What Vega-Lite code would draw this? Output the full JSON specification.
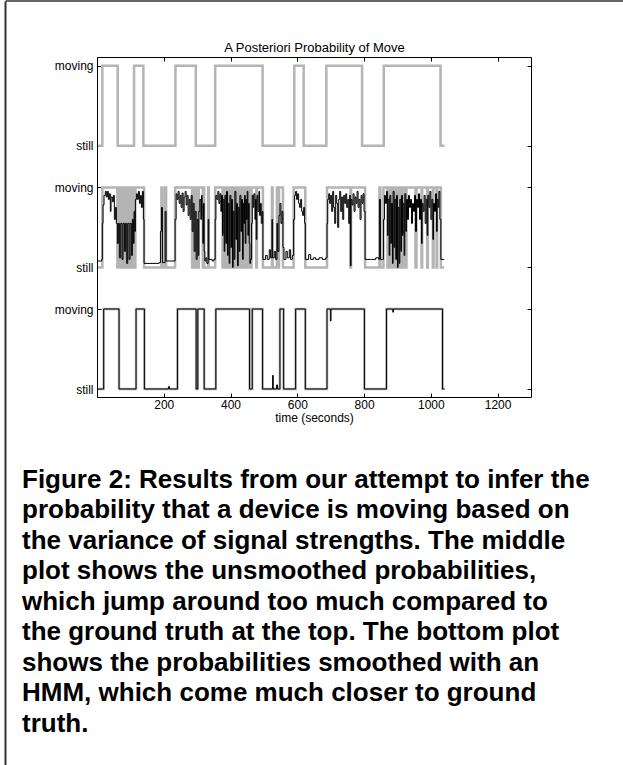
{
  "$schema": "https://vega.github.io/schema/vega-lite/v6.json",
  "autosize": {"type": "none"},
  "width": 434,
  "height": 340,
  "padding": {"left": 97, "top": 57, "right": 92, "bottom": 368},
  "background": "white",
  "config": {
    "font": "Liberation Sans",
    "view": {"stroke": "black", "strokeWidth": 1},
    "axis": {
      "grid": false,
      "domain": false,
      "labelFont": "Liberation Sans",
      "labelFontSize": 12,
      "labelColor": "black",
      "titleFont": "Liberation Sans",
      "titleFontSize": 12,
      "titleFontWeight": "normal",
      "titleColor": "black",
      "tickColor": "black",
      "tickWidth": 1
    }
  },
  "datasets": {
    "actual": [
      {"t": 4, "v": 0}, {"t": 16, "v": 1}, {"t": 62, "v": 0}, {"t": 111, "v": 1}, {"t": 139, "v": 0},
      {"t": 235, "v": 1}, {"t": 296, "v": 0}, {"t": 354, "v": 1}, {"t": 496, "v": 0}, {"t": 591, "v": 1},
      {"t": 619, "v": 0}, {"t": 687, "v": 1}, {"t": 794, "v": 0}, {"t": 859, "v": 1}, {"t": 1029, "v": 0},
      {"t": 1041, "v": 0}
    ],
    "smoothed": [
      {"t": 4, "s": 0, "g": 0}, {"t": 20, "s": 1, "g": 1}, {"t": 66, "s": 0, "g": 0}, {"t": 117, "s": 1, "g": 1},
      {"t": 142, "s": 0, "g": 0}, {"t": 214, "s": 0.03, "g": 0}, {"t": 217, "s": 0, "g": 0}, {"t": 241, "s": 1, "g": 1},
      {"t": 297, "s": 0, "g": 0}, {"t": 302, "s": 1, "g": 1}, {"t": 321, "s": 0, "g": 0}, {"t": 356, "s": 1, "g": 1},
      {"t": 457, "s": 0, "g": 0}, {"t": 465, "s": 1, "g": 1}, {"t": 496, "s": 0, "g": 0}, {"t": 526, "s": 0.17, "g": 0},
      {"t": 528, "s": 0, "g": 0}, {"t": 538, "s": 0.05, "g": 0}, {"t": 541, "s": 0, "g": 0}, {"t": 548, "s": 1, "g": 1},
      {"t": 559, "s": 0, "g": 0}, {"t": 595, "s": 1, "g": 1}, {"t": 624, "s": 0, "g": 0}, {"t": 689, "s": 1, "g": 1},
      {"t": 699, "s": 0.85, "g": 1}, {"t": 701, "s": 1, "g": 1}, {"t": 801, "s": 0, "g": 0}, {"t": 867, "s": 1, "g": 1},
      {"t": 886, "s": 0.96, "g": 1}, {"t": 888, "s": 1, "g": 1}, {"t": 1035, "s": 0, "g": 0}, {"t": 1041, "s": 0, "g": 0}
    ],
    "unsmoothed": [
      {"t":3,"u":0.08,"g":0},{"t":14,"u":0.1,"g":0},{"t":16,"u":0.55,"g":1},{"t":18,"u":0.78,"g":1},{"t":21,"u":0.9,"g":1},
      {"t":25,"u":0.95,"g":1},{"t":28,"u":0.88,"g":1},{"t":31,"u":0.95,"g":1},{"t":34,"u":0.85,"g":1},{"t":37,"u":0.92,"g":1},
      {"t":40,"u":0.7,"g":1},{"t":42,"u":0.88,"g":1},{"t":46,"u":0.82,"g":1},{"t":49,"u":0.9,"g":1},{"t":52,"u":0.6,"g":1},
      {"t":55,"u":0.75,"g":1},{"t":58,"u":0.55,"g":1},{"t":61,"u":0.3,"g":0},{"t":64,"u":0.55,"g":1},{"t":67,"u":0.12,"g":0},
      {"t":71,"u":0.55,"g":1},{"t":75,"u":0.1,"g":0},{"t":78,"u":0.55,"g":1},{"t":82,"u":0.2,"g":0},{"t":85,"u":0.55,"g":1},
      {"t":89,"u":0.05,"g":0},{"t":92,"u":0.55,"g":1},{"t":96,"u":0.1,"g":0},{"t":99,"u":0.55,"g":1},{"t":103,"u":0.15,"g":0},
      {"t":106,"u":0.6,"g":1},{"t":109,"u":0.3,"g":0},{"t":111,"u":0.7,"g":1},{"t":113,"u":0.45,"g":0},{"t":115,"u":0.85,"g":1},
      {"t":118,"u":0.92,"g":1},{"t":121,"u":0.85,"g":1},{"t":124,"u":0.95,"g":1},{"t":127,"u":0.8,"g":1},{"t":130,"u":0.9,"g":1},
      {"t":133,"u":0.75,"g":1},{"t":136,"u":0.95,"g":1},{"t":139,"u":0.6,"g":1},{"t":141,"u":0.05,"g":0},
      {"t":186,"u":0.06,"g":0},{"t":190,"u":0.45,"g":0},{"t":193,"u":0.75,"g":1},{"t":196,"u":0.06,"g":0},{"t":204,"u":0.7,"g":1},
      {"t":207,"u":0.08,"g":0},
      {"t":234,"u":0.6,"g":1},{"t":237,"u":0.92,"g":1},{"t":240,"u":0.85,"g":1},{"t":243,"u":0.95,"g":1},{"t":246,"u":0.8,"g":1},
      {"t":249,"u":0.9,"g":1},{"t":252,"u":0.75,"g":1},{"t":255,"u":0.93,"g":1},{"t":258,"u":0.7,"g":1},{"t":261,"u":0.88,"g":1},
      {"t":264,"u":0.95,"g":1},{"t":267,"u":0.78,"g":1},{"t":270,"u":0.9,"g":1},{"t":273,"u":0.65,"g":1},{"t":276,"u":0.85,"g":1},
      {"t":279,"u":0.6,"g":1},{"t":282,"u":0.9,"g":1},{"t":285,"u":0.45,"g":0},{"t":288,"u":0.8,"g":1},{"t":291,"u":0.2,"g":0},
      {"t":294,"u":0.7,"g":1},{"t":297,"u":0.1,"g":0},{"t":300,"u":0.6,"g":1},{"t":303,"u":0.15,"g":0},{"t":305,"u":0.7,"g":1},
      {"t":308,"u":0.85,"g":1},{"t":311,"u":0.6,"g":1},{"t":313,"u":0.9,"g":1},{"t":315,"u":0.75,"g":1},{"t":317,"u":0.3,"g":0},
      {"t":319,"u":0.8,"g":1},{"t":321,"u":0.2,"g":0},{"t":323,"u":0.08,"g":0},
      {"t":326,"u":0.12,"g":0},{"t":329,"u":0.05,"g":0},{"t":333,"u":0.6,"g":1},{"t":335,"u":0.1,"g":0},{"t":339,"u":0.1,"g":0},
      {"t":345,"u":0.08,"g":0},{"t":350,"u":0.1,"g":0},
      {"t":354,"u":0.6,"g":1},{"t":356,"u":0.9,"g":1},{"t":359,"u":0.85,"g":1},{"t":362,"u":0.95,"g":1},{"t":365,"u":0.8,"g":1},
      {"t":368,"u":0.92,"g":1},{"t":371,"u":0.7,"g":1},{"t":373,"u":0.9,"g":1},{"t":376,"u":0.4,"g":0},{"t":378,"u":0.85,"g":1},
      {"t":381,"u":0.2,"g":0},{"t":383,"u":0.9,"g":1},{"t":386,"u":0.3,"g":0},{"t":388,"u":0.95,"g":1},{"t":391,"u":0.15,"g":0},
      {"t":393,"u":0.8,"g":1},{"t":396,"u":0.05,"g":0},{"t":398,"u":0.9,"g":1},{"t":401,"u":0.25,"g":0},{"t":403,"u":0.85,"g":1},
      {"t":406,"u":0.0,"g":0},{"t":408,"u":0.7,"g":1},{"t":411,"u":0.1,"g":0},{"t":413,"u":0.95,"g":1},{"t":416,"u":0.35,"g":0},
      {"t":418,"u":0.8,"g":1},{"t":421,"u":0.02,"g":0},{"t":423,"u":0.75,"g":1},{"t":426,"u":0.2,"g":0},{"t":428,"u":0.9,"g":1},
      {"t":431,"u":0.45,"g":0},{"t":433,"u":0.85,"g":1},{"t":436,"u":0.1,"g":0},{"t":438,"u":0.8,"g":1},{"t":440,"u":0.55,"g":1},
      {"t":442,"u":0.9,"g":1},{"t":444,"u":0.3,"g":0},{"t":446,"u":0.85,"g":1},{"t":448,"u":0.6,"g":1},{"t":450,"u":0.95,"g":1},
      {"t":452,"u":0.4,"g":0},{"t":454,"u":0.8,"g":1},{"t":456,"u":0.3,"g":0},{"t":458,"u":0.05,"g":0},{"t":460,"u":0.1,"g":0},
      {"t":463,"u":0.55,"g":1},{"t":465,"u":0.9,"g":1},{"t":468,"u":0.75,"g":1},{"t":470,"u":0.92,"g":1},{"t":473,"u":0.6,"g":1},
      {"t":475,"u":0.85,"g":1},{"t":477,"u":0.35,"g":0},{"t":479,"u":0.9,"g":1},{"t":482,"u":0.7,"g":1},{"t":485,"u":0.95,"g":1},
      {"t":487,"u":0.65,"g":1},{"t":490,"u":0.8,"g":1},{"t":492,"u":0.55,"g":1},{"t":495,"u":0.7,"g":1},{"t":497,"u":0.1,"g":0},
      {"t":505,"u":0.15,"g":0},{"t":510,"u":0.1,"g":0},{"t":516,"u":0.22,"g":0},{"t":520,"u":0.12,"g":0},{"t":524,"u":0.6,"g":1},
      {"t":526,"u":0.12,"g":0},{"t":531,"u":0.2,"g":0},{"t":535,"u":0.1,"g":0},{"t":539,"u":0.55,"g":1},{"t":541,"u":0.2,"g":0},
      {"t":545,"u":0.65,"g":1},{"t":548,"u":0.8,"g":1},{"t":551,"u":0.55,"g":1},{"t":554,"u":0.7,"g":1},{"t":557,"u":0.25,"g":0},
      {"t":560,"u":0.1,"g":0},{"t":566,"u":0.2,"g":0},{"t":570,"u":0.12,"g":0},{"t":576,"u":0.22,"g":0},{"t":580,"u":0.1,"g":0},
      {"t":585,"u":0.15,"g":0},
      {"t":589,"u":0.6,"g":1},{"t":592,"u":0.9,"g":1},{"t":595,"u":0.95,"g":1},{"t":598,"u":0.85,"g":1},{"t":601,"u":0.92,"g":1},
      {"t":604,"u":0.8,"g":1},{"t":607,"u":0.75,"g":1},{"t":610,"u":0.85,"g":1},{"t":613,"u":0.7,"g":1},{"t":616,"u":0.65,"g":1},
      {"t":619,"u":0.75,"g":1},{"t":622,"u":0.55,"g":1},{"t":624,"u":0.1,"g":0},
      {"t":634,"u":0.16,"g":0},{"t":640,"u":0.1,"g":0},{"t":648,"u":0.12,"g":0},{"t":655,"u":0.1,"g":0},{"t":665,"u":0.12,"g":0},
      {"t":675,"u":0.1,"g":0},{"t":685,"u":0.12,"g":0},
      {"t":689,"u":0.55,"g":1},{"t":691,"u":0.85,"g":1},{"t":694,"u":0.92,"g":1},{"t":697,"u":0.8,"g":1},{"t":700,"u":0.9,"g":1},
      {"t":703,"u":0.7,"g":1},{"t":706,"u":0.95,"g":1},{"t":709,"u":0.75,"g":1},{"t":712,"u":0.55,"g":1},{"t":715,"u":0.9,"g":1},
      {"t":718,"u":0.8,"g":1},{"t":721,"u":0.5,"g":1},{"t":724,"u":0.85,"g":1},{"t":727,"u":0.95,"g":1},{"t":730,"u":0.7,"g":1},
      {"t":733,"u":0.88,"g":1},{"t":736,"u":0.6,"g":1},{"t":739,"u":0.9,"g":1},{"t":742,"u":0.8,"g":1},{"t":745,"u":0.92,"g":1},
      {"t":748,"u":0.75,"g":1},{"t":751,"u":0.85,"g":1},{"t":754,"u":0.55,"g":1},{"t":757,"u":0.9,"g":1},{"t":759,"u":0.02,"g":0},
      {"t":761,"u":0.85,"g":1},{"t":764,"u":0.78,"g":1},{"t":767,"u":0.92,"g":1},{"t":770,"u":0.7,"g":1},{"t":773,"u":0.88,"g":1},
      {"t":776,"u":0.8,"g":1},{"t":779,"u":0.95,"g":1},{"t":782,"u":0.75,"g":1},{"t":785,"u":0.85,"g":1},{"t":788,"u":0.6,"g":1},
      {"t":791,"u":0.9,"g":1},{"t":794,"u":0.8,"g":1},{"t":797,"u":0.92,"g":1},{"t":800,"u":0.7,"g":1},{"t":803,"u":0.1,"g":0},
      {"t":820,"u":0.1,"g":0},{"t":835,"u":0.12,"g":0},{"t":844,"u":0.1,"g":0},{"t":846,"u":0.85,"g":1},{"t":849,"u":0.1,"g":0},
      {"t":855,"u":0.1,"g":0},
      {"t":858,"u":0.6,"g":1},{"t":861,"u":0.9,"g":1},{"t":864,"u":0.8,"g":1},{"t":867,"u":0.95,"g":1},{"t":870,"u":0.4,"g":0},
      {"t":872,"u":0.85,"g":1},{"t":875,"u":0.15,"g":0},{"t":877,"u":0.9,"g":1},{"t":880,"u":0.3,"g":0},{"t":882,"u":0.8,"g":1},
      {"t":885,"u":0.05,"g":0},{"t":887,"u":0.95,"g":1},{"t":890,"u":0.25,"g":0},{"t":892,"u":0.85,"g":1},{"t":895,"u":0.1,"g":0},
      {"t":897,"u":0.9,"g":1},{"t":900,"u":0.0,"g":0},{"t":902,"u":0.75,"g":1},{"t":905,"u":0.05,"g":0},{"t":907,"u":0.85,"g":1},
      {"t":910,"u":0.2,"g":0},{"t":912,"u":0.9,"g":1},{"t":915,"u":0.4,"g":0},{"t":917,"u":0.8,"g":1},{"t":920,"u":0.15,"g":0},
      {"t":922,"u":0.92,"g":1},{"t":925,"u":0.45,"g":0},{"t":927,"u":0.85,"g":1},{"t":930,"u":0.6,"g":1},{"t":933,"u":0.9,"g":1},
      {"t":936,"u":0.75,"g":1},{"t":939,"u":0.85,"g":1},{"t":942,"u":0.55,"g":1},{"t":945,"u":0.8,"g":1},{"t":948,"u":0.7,"g":1},
      {"t":951,"u":0.9,"g":1},{"t":954,"u":0.45,"g":0},{"t":957,"u":0.85,"g":1},{"t":960,"u":0.75,"g":1},{"t":963,"u":0.92,"g":1},
      {"t":966,"u":0.6,"g":1},{"t":969,"u":0.85,"g":1},{"t":972,"u":0.3,"g":0},{"t":974,"u":0.8,"g":1},{"t":977,"u":0.7,"g":1},
      {"t":980,"u":0.9,"g":1},{"t":983,"u":0.55,"g":1},{"t":986,"u":0.85,"g":1},{"t":989,"u":0.4,"g":0},{"t":991,"u":0.9,"g":1},
      {"t":994,"u":0.75,"g":1},{"t":997,"u":0.95,"g":1},{"t":1000,"u":0.6,"g":1},{"t":1003,"u":0.85,"g":1},{"t":1006,"u":0.35,"g":0},
      {"t":1008,"u":0.8,"g":1},{"t":1011,"u":0.7,"g":1},{"t":1014,"u":0.92,"g":1},{"t":1017,"u":0.45,"g":0},{"t":1019,"u":0.85,"g":1},
      {"t":1022,"u":0.75,"g":1},{"t":1024,"u":0.95,"g":1},{"t":1027,"u":0.6,"g":1},{"t":1030,"u":0.1,"g":0},{"t":1040,"u":0.1,"g":0}
    ],
    "caption": [
      {"n": 1, "line": "Figure 2: Results from our attempt to infer the"},
      {"n": 2, "line": "probability that a device is moving based on"},
      {"n": 3, "line": "the variance of signal strengths. The middle"},
      {"n": 4, "line": "plot shows the unsmoothed probabilities,"},
      {"n": 5, "line": "which jump around too much compared to"},
      {"n": 6, "line": "the ground truth at the top. The bottom plot"},
      {"n": 7, "line": "shows the probabilities smoothed with an"},
      {"n": 8, "line": "HMM, which come much closer to ground"},
      {"n": 9, "line": "truth."}
    ]
  },
  "layer": [
    {
      "layer": [
        {
          "data": {"name": "actual"},
          "mark": {"type": "line", "interpolate": "step-after", "color": "#b4b4b4", "strokeWidth": 2.5},
          "encoding": {
            "x": {"field": "t", "type": "quantitative", "scale": {"domain": [0, 1300], "nice": false, "zero": false},
                  "axis": {"orient": "top", "values": [200, 400, 600, 800, 1000, 1200], "labels": false, "tickSize": -4, "title": "A Posteriori Probability of Move", "titleFontSize": 13, "titlePadding": 2}},
            "y": {"field": "v", "type": "quantitative", "scale": {"domain": [-3.14, 1.11], "nice": false, "zero": false},
                  "axis": {"orient": "right", "values": [-3.04, -2.04, -1.52, -0.52, 0, 1], "labels": false, "tickSize": -4, "title": null}}
          }
        },
        {
          "mark": {"type": "text", "align": "left", "baseline": "middle", "fontSize": 12.5, "color": "black"},
          "encoding": {
            "x": {"datum": 1043, "type": "quantitative"},
            "y": {"datum": 0.5, "type": "quantitative"},
            "text": {"value": "actual"}
          }
        }
      ]
    },
    {
      "layer": [
        {
          "data": {"name": "unsmoothed"},
          "mark": {"type": "line", "interpolate": "step-after", "color": "#b4b4b4", "strokeWidth": 2.5},
          "encoding": {
            "x": {"field": "t", "type": "quantitative", "scale": {"domain": [0, 1300], "nice": false, "zero": false}, "axis": null},
            "y": {"field": "g", "type": "quantitative", "scale": {"domain": [-1.62, 2.63], "nice": false, "zero": false}, "axis": null}
          }
        },
        {
          "data": {"name": "unsmoothed"},
          "mark": {"type": "line", "interpolate": "step-after", "color": "black", "strokeWidth": 1},
          "encoding": {
            "x": {"field": "t", "type": "quantitative"},
            "y": {"field": "u", "type": "quantitative"}
          }
        },
        {
          "mark": {"type": "text", "align": "left", "baseline": "middle", "fontSize": 12.5, "color": "black"},
          "encoding": {
            "x": {"datum": 1043, "type": "quantitative"},
            "y": {"datum": 0.5, "type": "quantitative"},
            "text": {"value": "unsmoothed"}
          }
        }
      ]
    },
    {
      "layer": [
        {
          "data": {"name": "smoothed"},
          "mark": {"type": "line", "interpolate": "step-after", "color": "#b4b4b4", "strokeWidth": 2.5},
          "encoding": {
            "x": {"field": "t", "type": "quantitative", "scale": {"domain": [0, 1300], "nice": false, "zero": false},
                  "axis": {"orient": "bottom", "values": [200, 400, 600, 800, 1000, 1200], "format": "d", "tickSize": -4, "labelPadding": 6, "title": "time (seconds)", "titlePadding": 2}},
            "y": {"field": "g", "type": "quantitative", "scale": {"domain": [-0.1, 4.15], "nice": false, "zero": false},
                  "axis": {"orient": "left", "values": [0, 1, 1.52, 2.52, 3.04, 4.04], "tickSize": -4, "labelPadding": 8, "title": null,
                           "labelExpr": "datum.value == 0 || datum.value == 1.52 || datum.value == 3.04 ? 'still' : 'moving'"}}
          }
        },
        {
          "data": {"name": "smoothed"},
          "mark": {"type": "line", "interpolate": "step-after", "color": "black", "strokeWidth": 1},
          "encoding": {
            "x": {"field": "t", "type": "quantitative"},
            "y": {"field": "s", "type": "quantitative"}
          }
        },
        {
          "mark": {"type": "text", "align": "left", "baseline": "middle", "fontSize": 12.5, "color": "black"},
          "encoding": {
            "x": {"datum": 1043, "type": "quantitative"},
            "y": {"datum": 0.5, "type": "quantitative"},
            "text": {"value": "smoothed"}
          }
        }
      ]
    },
    {
      "data": {"name": "caption"},
      "mark": {"type": "text", "align": "left", "baseline": "alphabetic", "dx": 17, "fontSize": 26, "fontWeight": "bold", "font": "Liberation Sans", "color": "black"},
      "encoding": {
        "x": {"datum": 0, "type": "quantitative", "scale": {"domain": [0, 1], "range": [-92, 526], "nice": false, "zero": false},
              "axis": {"orient": "top", "offset": 56.5, "domain": true, "domainColor": "#333333", "domainWidth": 1.5, "ticks": false, "labels": false, "title": null}},
        "y": {"field": "n", "type": "quantitative", "scale": {"domain": [-14.967, 10.082], "range": [-56, 708], "nice": false, "zero": false},
              "axis": {"orient": "left", "offset": 92, "domain": true, "domainColor": "#333333", "domainWidth": 2, "ticks": false, "labels": false, "title": null}},
        "text": {"field": "line", "type": "nominal"}
      }
    }
  ],
  "resolve": {"scale": {"x": "independent", "y": "independent"}, "axis": {"x": "independent", "y": "independent"}}
}
